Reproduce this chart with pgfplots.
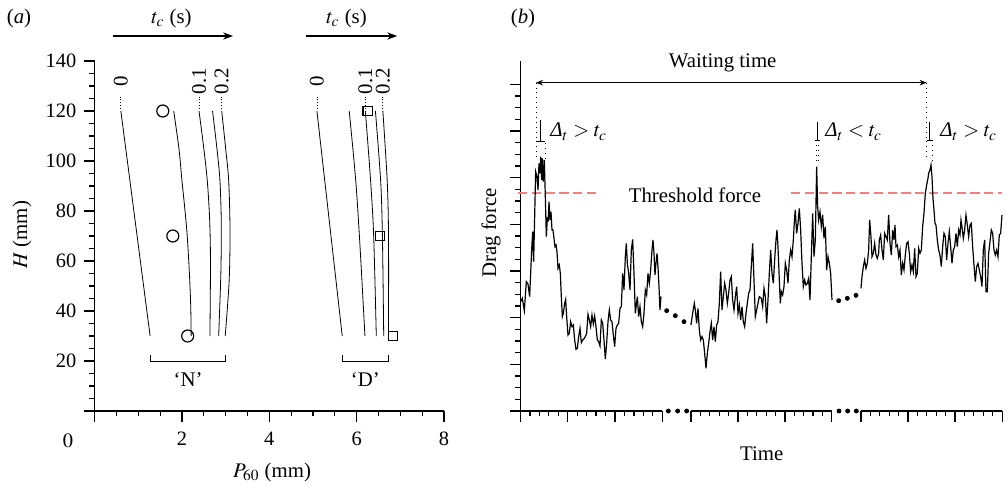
\documentclass[border=0pt]{standalone}
\usepackage{mathptmx}
\usepackage[no-math]{fontspec}
\setmainfont{Liberation Serif}
\usepackage{xcolor}
\usepackage{pgfplots}
\pgfplotsset{compat=1.18}
\usetikzlibrary{arrows.meta}

\definecolor{thresh}{rgb}{0.95,0.5,0.5}

% drag force trace (b), picture units
\pgfplotstableread{
x y
8 328
13 338
19 301
25 388
30 381
35 343
41 483
44 538
47 448
50 583
53 718
57 703
60 663
63 743
66 713
68 763
71 693
73 758
76 688
79 753
82 643
85 523
88 578
91 573
93 628
96 573
99 598
102 543
105 543
108 518
111 493
114 498
117 478
120 428
124 438
127 413
130 343
133 283
136 293
140 323
143 335
146 283
150 228
154 233
158 268
162 253
166 258
170 213
174 185
178 188
182 223
186 248
190 205
194 213
198 217
202 223
206 233
210 290
214 273
218 253
222 288
226 261
230 285
234 253
238 213
242 208
246 195
250 273
254 263
258 213
262 156
266 203
270 268
274 303
278 273
282 268
286 228
290 193
294 248
298 258
302 263
306 308
310 313
314 413
318 363
322 463
325 503
328 443
332 413
336 363
340 483
344 515
348 413
352 293
358 343
362 283
366 313
370 268
374 253
378 293
382 363
386 348
390 413
394 383
398 423
402 483
405 513
408 473
411 408
414 443
417 473
420 433
423 373
426 303
429 343
}\segA

\pgfplotstableread{
x y
519 258
524 293
529 323
532 303
536 263
540 308
544 243
548 213
552 223
556 213
560 173
564 128
568 173
572 203
576 238
580 263
584 213
588 253
592 208
596 258
600 268
604 323
608 418
612 303
616 343
620 383
624 363
628 323
632 353
636 393
640 403
644 333
648 303
652 343
656 373
660 293
664 318
668 273
672 313
676 268
680 253
684 293
688 323
692 353
696 363
700 433
704 503
708 393
712 283
716 303
720 323
724 343
730 338
734 313
738 368
742 343
746 263
750 333
754 413
758 483
762 413
766 383
770 453
774 513
777 543
780 493
784 393
787 323
790 358
794 348
798 373
802 443
806 423
810 383
814 453
818 483
822 463
826 513
830 583
832 603
836 533
840 563
844 608
848 543
852 443
856 373
860 393
864 378
868 383
872 398
876 333
880 463
884 593
888 463
892 513
896 733
899 613
902 573
906 598
910 553
914 588
918 518
922 553
926 423
930 463
934 443
938 413
942 333
}\segB

\pgfplotstableread{
x y
1029 368
1032 403
1036 433
1040 453
1044 428
1048 443
1052 483
1055 573
1059 523
1062 463
1066 473
1070 503
1074 468
1078 458
1082 473
1084 513
1088 528
1092 483
1096 453
1100 533
1104 523
1108 513
1112 588
1116 503
1120 468
1124 543
1128 513
1131 558
1134 493
1138 498
1142 463
1146 483
1150 408
1154 443
1158 423
1162 468
1166 503
1170 508
1174 473
1178 418
1182 438
1186 418
1190 488
1194 403
1198 413
1202 488
1206 473
1210 483
1214 553
1218 593
1222 653
1226 678
1230 698
1232 713
1236 723
1239 738
1242 703
1245 638
1248 603
1251 563
1254 558
1258 513
1262 483
1266 468
1270 433
1274 493
1278 533
1282 523
1286 453
1290 503
1294 538
1298 493
1302 443
1306 483
1310 493
1314 533
1318 493
1322 543
1326 528
1329 573
1332 553
1336 518
1340 543
1344 588
1348 558
1352 523
1356 558
1360 563
1364 493
1368 438
1372 388
1376 433
1380 443
1384 423
1388 403
1392 373
1396 483
1400 513
1404 358
1408 358
1412 473
1416 508
1420 543
1424 533
1428 483
1432 468
1436 483
1440 463
1444 528
1448 533
1452 588
}\segC

\newcommand{\Dt}{\textit{Δ}}

\begin{document}
\fontsize{10.4}{12.5}\selectfont
\begin{tikzpicture}
\useasboundingbox (0,0) rectangle (504pt,244.5pt);

\pgfplotsset{
  every axis/.append style={
    scale only axis, clip=false,
    axis lines=left, axis line style={-, line width=0.7pt},
    tick align=outside, major tick length=5.5pt, minor tick length=2.6pt,
    every tick/.style={black, line width=0.6pt},
    tick label style={font=\fontsize{10.2}{12}\selectfont},
  }
}

% ---------------- (a)
\begin{axis}[
  at={(47.33pt,39pt)}, anchor=south west,
  width=174.67pt, height=175pt,
  xmin=0, xmax=8, ymin=0, ymax=140,
  xtick={0,2,4,6,8}, xticklabels={,2,4,6,8},
  minor x tick num=3,
  ytick={0,20,...,140}, yticklabels={,20,40,60,80,100,120,140},
  minor y tick num=3,
  xticklabel style={yshift=-1.5pt},
]
% N
\addplot[black, line width=0.4pt] coordinates {(0.60,120) (1.27,30)};
\addplot[black, line width=0.4pt, smooth] coordinates {(1.81,120) (1.93,105) (2.00,92) (2.07,80) (2.12,70) (2.17,55) (2.20,42) (2.21,30)};
\addplot[black, line width=0.4pt, smooth] coordinates {(2.39,120) (2.50,105) (2.58,92) (2.63,78) (2.65,65) (2.65,50) (2.64,30)};
\addplot[black, line width=0.4pt, smooth] coordinates {(2.70,120) (2.80,105) (2.87,92) (2.90,75) (2.89,55) (2.84,30)};
\addplot[black, line width=0.4pt, smooth] coordinates {(2.91,120) (3.00,105) (3.07,92) (3.10,72) (3.08,52) (2.99,30)};
% D
\addplot[black, line width=0.4pt] coordinates {(5.09,120) (5.67,30)};
\addplot[black, line width=0.4pt, smooth] coordinates {(5.83,120) (5.98,92) (6.08,65) (6.19,30)};
\addplot[black, line width=0.4pt, smooth] coordinates {(6.20,120) (6.32,92) (6.39,70) (6.45,30)};
\addplot[black, line width=0.4pt, smooth] coordinates {(6.43,120) (6.55,92) (6.59,70) (6.62,30)};
\addplot[black, line width=0.4pt, smooth] coordinates {(6.60,120) (6.70,92) (6.73,70) (6.73,30)};
% measurements
\addplot[only marks, mark=o, mark size=3pt, black, mark options={line width=0.6pt}] coordinates {(1.56,120) (1.79,70) (2.13,30)};
\addplot[only marks, mark=square, mark size=2.3pt, black, mark options={line width=0.6pt}] coordinates {(6.25,120) (6.53,70) (6.83,30)};

% t_c labels
\foreach \xx/\lab in {0.60/0, 2.39/0.1, 2.91/0.2, 5.09/0, 6.20/0.1, 6.60/0.2} {
  \edef\tmp{\noexpand\draw[densely dotted, line width=0.4pt] (axis cs:\xx,121) -- (axis cs:\xx,126.5);
    \noexpand\node[rotate=90, inner sep=0pt] at (axis cs:\xx,132) {\lab};}
  \tmp
}
\draw[line width=0.5pt] (axis cs:1.27,22.4) -- (axis cs:1.27,20) -- (axis cs:2.99,20) -- (axis cs:2.99,22.4);
\draw[line width=0.5pt] (axis cs:5.67,22.4) -- (axis cs:5.67,20) -- (axis cs:6.73,20) -- (axis cs:6.73,22.4);
\node at (axis cs:2.14,12.4) {`N'};
\node at (axis cs:6.20,12.4) {`D'};

\draw[-{Stealth[length=5pt,width=3.6pt]}, line width=0.6pt] (axis cs:0.42,150) -- (axis cs:3.17,150);
\draw[-{Stealth[length=5pt,width=3.6pt]}, line width=0.6pt] (axis cs:4.84,150) -- (axis cs:6.93,150);
\node at (axis cs:1.76,157.2) {$t_c$ (s)};
\node at (axis cs:5.77,157.2) {$t_c$ (s)};
\node at (axis cs:-0.61,-12) {\fontsize{10.2}{12}\selectfont $0$};
\end{axis}

% ---------------- (b)
\begin{axis}[
  at={(260.33pt,39pt)}, anchor=south west,
  width=240.83pt, height=175pt,
  xmin=8, xmax=1453, ymin=0, ymax=1050,
  x axis line style={draw=none},
  xtick={8,149,291,433,519,660,801,941,1029,1170,1311,1453},
  minor xtick={36.2,64.4,92.6,120.8,177.4,205.8,234.2,262.6,319.4,347.8,376.2,404.6,
    547.2,575.4,603.6,631.8,688.2,716.4,744.6,772.8,829,857,885,913,
    1057.2,1085.4,1113.6,1141.8,1198.2,1226.4,1254.6,1282.8,1339.2,1367.4,1395.6,1424},
  ytick={0,140,...,980}, minor y tick num=3,
  xticklabels={}, yticklabels={},
]
\draw[line width=0.7pt] (axis cs:8,0) -- (axis cs:433,0);
\draw[line width=0.7pt] (axis cs:519,0) -- (axis cs:941,0);
\draw[line width=0.7pt] (axis cs:1029,0) -- (axis cs:1453,0);
\addplot[only marks, mark=*, mark size=1pt, black] coordinates {(451,0) (479,0) (506,0) (963,0) (989,0) (1015,0)};

\addplot[draw=thresh, line width=0.85pt, dash pattern=on 4.6pt off 2.3pt] coordinates {(0,653) (246,653)};
\addplot[draw=thresh, line width=0.85pt, dash pattern=on 4.6pt off 2.3pt] coordinates {(819,653) (1453,653)};

\addplot[black, line width=0.6pt] table {\segA};
\addplot[black, line width=0.6pt] table {\segB};
\addplot[black, line width=0.6pt] table {\segC};
\addplot[only marks, mark=*, mark size=1pt, black] coordinates {(446,301) (472,286) (498,268) (962,331) (988,338) (1014,347)};

\draw[{Stealth[length=3.5pt,width=2.8pt]}-{Stealth[length=3.5pt,width=2.8pt]}, line width=0.5pt] (axis cs:54,985) -- (axis cs:1226,985);
\draw[dotted, line width=0.45pt] (axis cs:54,985) -- (axis cs:54,759);
\draw[dotted, line width=0.45pt] (axis cs:81,804) -- (axis cs:81,759);
\draw[dotted, line width=0.45pt] (axis cs:1226,985) -- (axis cs:1226,753);
\draw[dotted, line width=0.45pt] (axis cs:1244,798) -- (axis cs:1244,753);
\draw[dotted, line width=0.45pt] (axis cs:895,798) -- (axis cs:895,753);
\draw[dotted, line width=0.45pt] (axis cs:900,798) -- (axis cs:900,753);
\draw[line width=0.5pt] (axis cs:68,873) -- (axis cs:68,810) (axis cs:56,810) -- (axis cs:81,810);
\draw[line width=0.5pt] (axis cs:898,868) -- (axis cs:898,811) (axis cs:891,811) -- (axis cs:906,811);
\draw[line width=0.5pt] (axis cs:1236,868) -- (axis cs:1236,811) (axis cs:1226,811) -- (axis cs:1244,811);
\node[anchor=west, inner sep=0pt] at (axis cs:96,838) {$\Dt_t > t_c$};
\node[anchor=west, inner sep=0pt] at (axis cs:921,838) {$\Dt_t < t_c$};
\node[anchor=west, inner sep=0pt] at (axis cs:1266,838) {$\Dt_t > t_c$};
\node at (axis cs:614,1043) {Waiting time};
\node at (axis cs:531,648) {Threshold force};
\end{axis}

% labels
\node at (9.5pt,235.5pt) {(\textit{a})};
\node at (261.5pt,235.5pt) {(\textit{b})};
\node[rotate=90] at (11pt,127pt) {$H$ (mm)};
\node at (136pt,8.5pt) {$P_{60}$ (mm)};
\node[rotate=90] at (245.5pt,128pt) {Drag force};
\node at (380.85pt,17.5pt) {Time};
\end{tikzpicture}
\end{document}
